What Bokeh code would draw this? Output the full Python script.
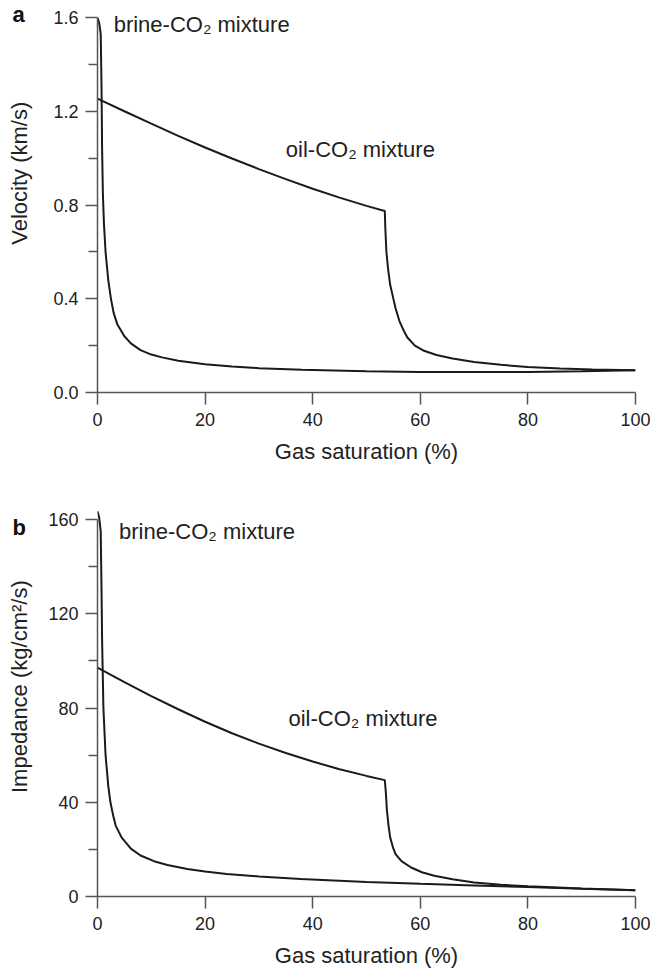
import math

from bokeh.plotting import figure
from bokeh.models import Range1d, FixedTicker, PrintfTickFormatter, Label
from bokeh.layouts import column, row
from bokeh.embed import file_html
from bokeh.resources import INLINE

# Gas saturation (%) and velocity (km/s) for the two fluid mixtures
brine_sat_v = [0.0, 0.3, 0.6, 0.75, 0.85, 1.0, 1.2, 1.5, 2.0, 2.5, 3.0, 3.7, 5.0,
               6.2, 8.0, 10.0, 12.0, 15.0, 20.0, 25.0, 30.0, 38.0, 50.0, 60.0,
               70.0, 80.0, 90.0, 100.0]
brine_vel = [1.600, 1.580, 1.530, 1.300, 1.050, 0.850, 0.720, 0.600, 0.480,
             0.400, 0.340, 0.290, 0.240, 0.210, 0.181, 0.162, 0.150, 0.136,
             0.121, 0.111, 0.104, 0.097, 0.091, 0.088, 0.087, 0.088, 0.091,
             0.095]

oil_sat_v = [0.0, 5.0, 10.0, 15.0, 20.0, 25.0, 30.0, 35.0, 40.0, 45.0, 50.0,
             53.4, 53.5, 53.7, 54.0, 54.4, 54.8, 55.4, 56.1, 57.0, 57.6, 59.0,
             60.7, 63.0, 66.0, 70.0, 75.0, 80.0, 86.0, 92.0, 100.0]
oil_vel = [1.255, 1.201, 1.148, 1.096, 1.046, 0.999, 0.954, 0.911, 0.870, 0.832,
           0.797, 0.775, 0.700, 0.600, 0.530, 0.460, 0.420, 0.360, 0.306, 0.260,
           0.235, 0.200, 0.178, 0.160, 0.145, 0.130, 0.118, 0.109, 0.102, 0.098,
           0.0955]

# Gas saturation (%) and acoustic impedance (kg/cm^2/s)
brine_sat_z = [0.0, 0.3, 0.6, 0.75, 0.85, 0.93, 1.1, 1.5, 2.0, 2.4, 3.0, 3.4,
               4.5, 6.2, 8.0, 10.5, 13.0, 16.7, 20.0, 24.0, 30.0, 37.8, 50.0,
               60.0, 70.0, 80.0, 90.0, 100.0]
brine_imp = [163.5, 161.0, 155.0, 130.0, 110.0, 100.0, 80.0, 60.0, 47.0, 40.0,
             33.5, 30.0, 25.0, 20.3, 17.4, 15.0, 13.4, 11.7, 10.6, 9.6, 8.5, 7.4,
             6.2, 5.4, 4.7, 4.0, 3.3, 2.7]

oil_sat_z = [0.0, 5.0, 10.0, 15.0, 20.0, 25.0, 30.0, 35.0, 40.0, 45.0, 50.0,
             53.4, 53.6, 53.8, 54.1, 54.4, 54.9, 55.4, 56.5, 58.3, 60.3, 62.6,
             66.0, 70.0, 75.0, 80.0, 90.0, 100.0]
oil_imp = [97.2, 91.0, 85.1, 79.5, 74.2, 69.3, 64.9, 60.9, 57.3, 54.0, 51.2,
           49.4, 44.0, 36.4, 30.0, 25.1, 21.0, 18.0, 15.0, 12.3, 10.3, 8.8, 7.3,
           5.9, 5.0, 4.3, 3.4, 2.7]

x_ticks = [0, 20, 40, 60, 80, 100]
vel_ticks = [0.0, 0.4, 0.8, 1.2, 1.6]
vel_minor = [0.2, 0.6, 1.0, 1.4]
imp_ticks = [0, 40, 80, 120, 160]
imp_minor = [20, 60, 100, 140]

FONT = "Liberation Sans"
AXIS_GREY = "#555555"
INK = "#1a1a1a"
TEXT = "#222222"
STRIP_W = 40


def side_strip(height, letter, letter_bottom, ylabel, ylabel_center):
    # blank strip left of the axis holding the panel letter and the y title
    s = figure(width=STRIP_W, height=height, output_backend="svg",
               toolbar_location=None, x_axis_type=None, y_axis_type=None,
               x_range=Range1d(0, STRIP_W), y_range=Range1d(0, height),
               min_border=0)
    s.outline_line_color = None
    s.grid.visible = False
    s.add_layout(Label(x=12, y=height - letter_bottom, text=letter,
                       text_font=FONT, text_font_style="bold",
                       text_font_size="22px", text_color="#111111"))
    s.add_layout(Label(x=19, y=height - ylabel_center, text=ylabel,
                       angle=math.pi / 2, text_align="center",
                       text_baseline="middle", text_font=FONT,
                       text_font_size="22px", text_color=TEXT))
    return s


def make_panel(height, top, bottom, y_end, y_bound, ticks, minor, fmt):
    p = figure(width=652 - STRIP_W, height=height, output_backend="svg",
               toolbar_location=None,
               x_range=Range1d(0, 100), y_range=Range1d(0, y_end),
               min_border_left=97 - STRIP_W, min_border_right=17,
               min_border_top=top, min_border_bottom=bottom)
    p.outline_line_color = None
    p.grid.visible = False

    xa = p.xaxis[0]
    xa.ticker = FixedTicker(ticks=x_ticks, minor_ticks=[])
    xa.bounds = (0, 100)
    xa.axis_label = "Gas saturation (%)"

    ya = p.yaxis[0]
    ya.ticker = FixedTicker(ticks=ticks, minor_ticks=minor)
    ya.bounds = (0, y_bound)
    ya.formatter = PrintfTickFormatter(format=fmt)

    for ax in (xa, ya):
        ax.axis_line_color = AXIS_GREY
        ax.axis_line_width = 1.5
        ax.major_tick_line_color = AXIS_GREY
        ax.major_tick_line_width = 1.5
        ax.minor_tick_line_color = AXIS_GREY
        ax.minor_tick_line_width = 1.5
        ax.major_tick_in = 0
        ax.major_tick_out = 12
        ax.minor_tick_in = 0
        ax.minor_tick_out = 9
        ax.major_label_text_font = FONT
        ax.major_label_text_font_size = "18px"
        ax.major_label_text_color = TEXT
        ax.axis_label_text_font = FONT
        ax.axis_label_text_font_size = "22px"
        ax.axis_label_text_font_style = "normal"
        ax.axis_label_text_color = TEXT
    xa.major_label_standoff = 8
    xa.axis_label_standoff = 10
    ya.major_label_standoff = 7
    return p


def mixture_label(x, y, text):
    return Label(x=x, y=y, text=text, text_font=FONT,
                 text_font_size="22px", text_color=TEXT)


# Panel a: velocity
pa = make_panel(480, 5, 88, 1.6524, 1.6, vel_ticks, vel_minor, "%.1f")
pa.line(brine_sat_v, brine_vel, line_color=INK, line_width=2)
pa.line(oil_sat_v, oil_vel, line_color=INK, line_width=2)
pa.add_layout(mixture_label(3.0, 1.518, "brine-CO₂ mixture"))
pa.add_layout(mixture_label(35.0, 0.986, "oil-CO₂ mixture"))

# Panel b: impedance
pb = make_panel(490, 25, 74, 166.0, 160, imp_ticks, imp_minor, "%d")
pb.line(brine_sat_z, brine_imp, line_color=INK, line_width=2)
pb.line(oil_sat_z, oil_imp, line_color=INK, line_width=2)
pb.add_layout(mixture_label(4.0, 149.6, "brine-CO₂ mixture"))
pb.add_layout(mixture_label(35.5, 70.1, "oil-CO₂ mixture"))

layout = column(
    row(side_strip(480, "a", 27, "Velocity (km/s)", 208), pa, spacing=0),
    row(side_strip(490, "b", 43, "Impedance (kg/cm²/s)", 227), pb, spacing=0),
    spacing=0)
open("out.html", "w").write(file_html(layout, INLINE))
